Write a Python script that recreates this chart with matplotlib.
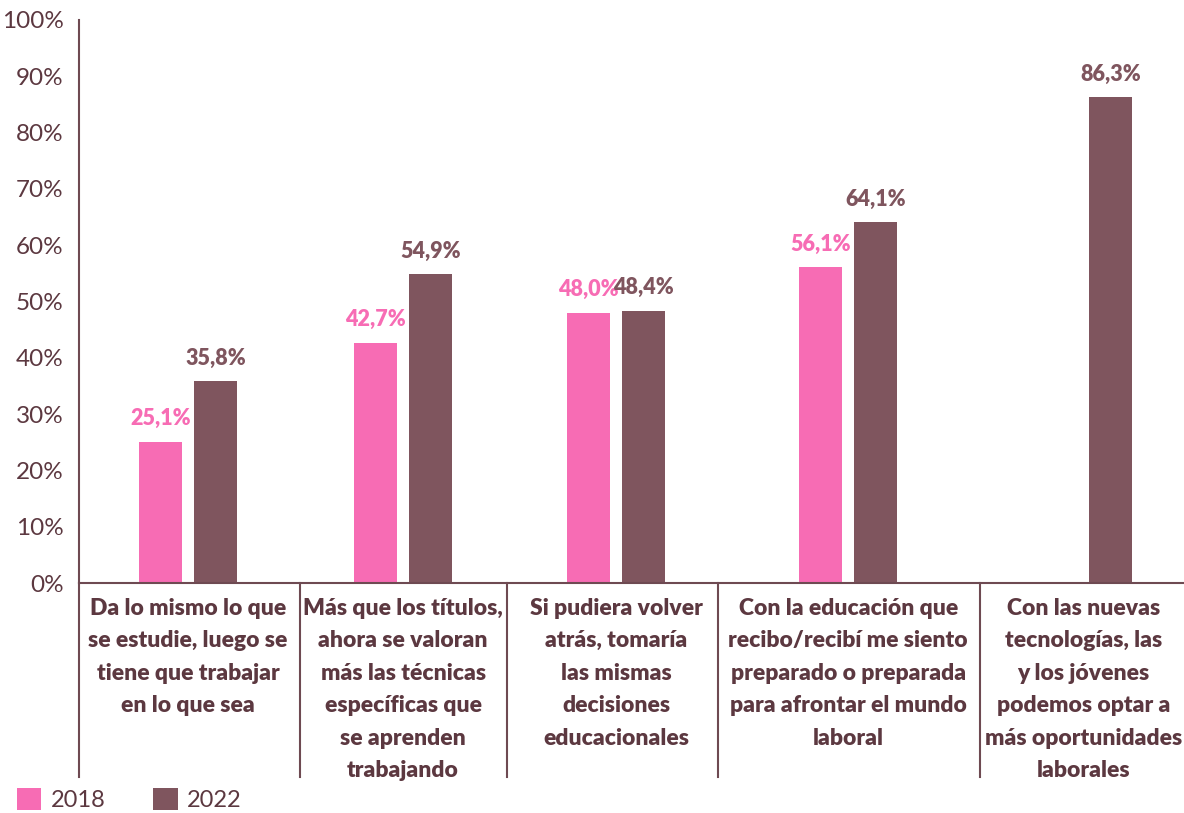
import matplotlib.pyplot as plt
import matplotlib.transforms as mtransforms
import numpy as np

categorias = [
    "Da lo mismo lo que\nse estudie, luego se\ntiene que trabajar\nen lo que sea",
    "Más que los títulos,\nahora se valoran\nmás las técnicas\nespecíficas que\nse aprenden\ntrabajando",
    "Si pudiera volver\natrás, tomaría\nlas mismas\ndecisiones\neducacionales",
    "Con la educación que\nrecibo/recibí me siento\npreparado o preparada\npara afrontar el mundo\nlaboral",
    "Con las nuevas\ntecnologías, las\ny los jóvenes\npodemos optar a\nmás oportunidades\nlaborales",
]
valores_2018 = [25.1, 42.7, 48.0, 56.1, np.nan]
valores_2022 = [35.8, 54.9, 48.4, 64.1, 86.3]
series = ["2018", "2022"]
yticks = list(range(0, 101, 10))

# posiciones de las categorias (layout, el original no es equiespaciado)
pos = np.array([0, 0.961, 1.913, 2.95, 4.0])
separadores = [-0.487, 0.5, 1.425, 2.368, 3.539]

rosa = "#F76CB4"
cafe = "#7F555E"
texto = "#5C3840"
linea = "#6E4A52"

plt.rcParams['font.family'] = ['Lato', 'DejaVu Sans']

fig = plt.figure(figsize=(11.84, 8.13), dpi=100)
ax = fig.add_axes([0.0667, 0.2829, 0.9333, 0.6925])

ancho = 0.192
desp = 0.123

b1 = ax.bar(pos - desp, valores_2018, ancho, color=rosa, label=series[0])
b2 = ax.bar(pos + desp, valores_2022, ancho, color=cafe, label=series[1])

for xi, v in zip(pos, valores_2018):
    if not np.isnan(v):
        ax.annotate(f"{v:.1f}%".replace(".", ","), (xi - desp, v), xytext=(0, 9),
                    textcoords="offset points", ha="center", va="bottom",
                    fontsize=15.5, fontweight="heavy", color=rosa)
for xi, v in zip(pos, valores_2022):
    ax.annotate(f"{v:.1f}%".replace(".", ","), (xi + desp, v), xytext=(0, 9),
                textcoords="offset points", ha="center", va="bottom",
                fontsize=15.5, fontweight="heavy", color=cafe)

ax.set_ylim(0, 100)
ax.set_xlim(-0.487, 4.45)
ax.set_yticks(yticks)
ax.set_yticklabels([f"{t}%" for t in yticks], fontsize=17.5, color=texto)
ax.set_xticks([])
ax.tick_params(axis="y", length=0, pad=11)

for s in ["top", "right"]:
    ax.spines[s].set_visible(False)
for s in ["left", "bottom"]:
    ax.spines[s].set_color(linea)
    ax.spines[s].set_linewidth(1.5)

trans = mtransforms.blended_transform_factory(ax.transData, ax.transAxes)
for xi, cat in zip(pos, categorias):
    ax.text(xi, -0.026, cat, transform=trans, ha="center", va="top",
            fontsize=16.5, fontweight="heavy", color=texto, linespacing=1.68)

# separadores entre categorias
for b in separadores:
    ax.plot([b, b], [0, -0.345], transform=trans, color=linea, lw=1.5, clip_on=False)

fig.legend(handles=[b1, b2], labels=series, loc="lower left", bbox_to_anchor=(0.012, 0.0),
           ncol=2, frameon=False, fontsize=17, handlelength=1.05, handleheight=1.05,
           columnspacing=2.0, handletextpad=0.4, labelcolor=texto,
           borderaxespad=0, borderpad=0.1)

fig.savefig("out.png", dpi=100)
